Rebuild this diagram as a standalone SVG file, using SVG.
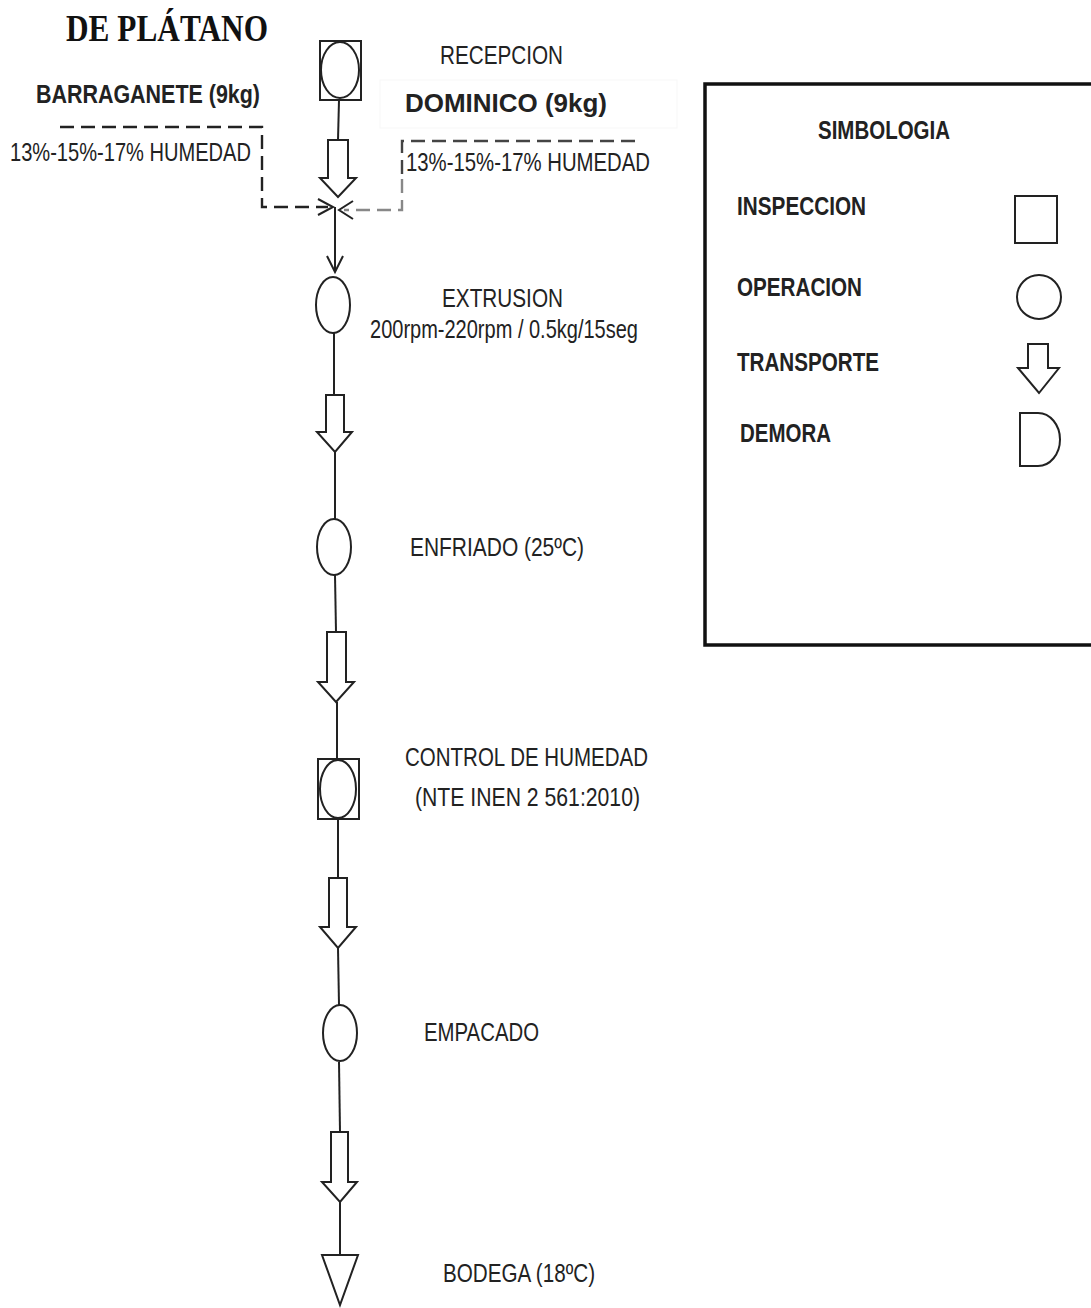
<svg xmlns="http://www.w3.org/2000/svg" width="1091" height="1308" viewBox="0 0 1091 1308">
<defs>
<style>
.t{font-family:"Liberation Sans",Arial,sans-serif;font-size:26px;fill:#222}
.b{font-family:"Liberation Sans",Arial,sans-serif;font-size:26px;font-weight:bold;fill:#222}
.sym{fill:#fff;stroke:#222;stroke-width:2}
.ln{fill:none;stroke:#222;stroke-width:2}
.dash{fill:none;stroke-width:2.4;stroke-dasharray:14 7}
</style>
</defs>
<rect width="1091" height="1308" fill="#fff"/>
<text x="66" y="41" font-family="'Liberation Serif','Times New Roman',serif" font-weight="bold" font-size="37" fill="#111" textLength="202" lengthAdjust="spacingAndGlyphs">DE PLÁTANO</text>
<rect x="380" y="80" width="297" height="48" fill="none" stroke="#f7f7f7" stroke-width="1"/>
<g id="connectors">
<line class="ln" x1="339" y1="100" x2="338" y2="140"/>
<line class="ln" x1="334" y1="333" x2="334" y2="395"/>
<line class="ln" x1="335" y1="452" x2="335" y2="519"/>
<line class="ln" x1="335" y1="575" x2="336" y2="632"/>
<line class="ln" x1="337" y1="702" x2="337" y2="759"/>
<line class="ln" x1="338" y1="819" x2="338" y2="878"/>
<line class="ln" x1="338" y1="948" x2="339" y2="1005"/>
<line class="ln" x1="339" y1="1062" x2="340" y2="1132"/>
<line class="ln" x1="340" y1="1202" x2="340" y2="1255"/>
<line class="ln" x1="335" y1="207" x2="335" y2="272"/>
<polyline class="ln" points="327,256 335,272 343,256"/>
<path class="dash" stroke="#222" d="M60,127 H262 V207 H328"/>
<polyline class="ln" points="318,199 333,207 318,215"/>
<path class="dash" stroke="#444" d="M635,141 H402 V179"/>
<path class="dash" stroke="#888" stroke-width="3" d="M402,179 V210 H344"/>
<polyline class="ln" points="353,201 339,210 353,219"/>
</g>
<g id="recepcion">
<rect class="sym" x="320" y="41" width="41" height="59"/>
<ellipse class="sym" cx="340" cy="70" rx="19" ry="28" stroke="#333"/>
<text class="t" x="440" y="64" textLength="123" lengthAdjust="spacingAndGlyphs">RECEPCION</text>
</g>
<g id="barraganete">
<text class="b" x="36" y="103" font-size="23" textLength="224" lengthAdjust="spacingAndGlyphs">BARRAGANETE  (9kg)</text>
<text class="t" x="10" y="161" textLength="241" lengthAdjust="spacingAndGlyphs">13%-15%-17% HUMEDAD</text>
</g>
<g id="dominico">
<text class="b" x="405" y="112" font-size="23" textLength="202" lengthAdjust="spacingAndGlyphs">DOMINICO (9kg)</text>
<text class="t" x="406" y="171" textLength="244" lengthAdjust="spacingAndGlyphs">13%-15%-17% HUMEDAD</text>
</g>
<g id="transporte1">
<polygon class="sym" points="328,140 348,140 348,178 356,178 338,197 320,178 328,178"/>
</g>
<g id="extrusion">
<ellipse class="sym" cx="333" cy="305" rx="17" ry="28" stroke="#333"/>
<text class="t" x="442" y="307" textLength="121" lengthAdjust="spacingAndGlyphs">EXTRUSION</text>
<text class="t" x="370" y="338" textLength="268" lengthAdjust="spacingAndGlyphs">200rpm-220rpm / 0.5kg/15seg</text>
</g>
<g id="transporte2">
<polygon class="sym" points="326,395 344,395 344,432 352,432 335,452 317,432 326,432"/>
</g>
<g id="enfriado">
<ellipse class="sym" cx="334" cy="547" rx="17" ry="28" stroke="#333"/>
<text class="t" x="410" y="556" textLength="174" lengthAdjust="spacingAndGlyphs">ENFRIADO (25ºC)</text>
</g>
<g id="transporte3">
<polygon class="sym" points="327,632 346,632 346,682 354,682 336,702 318,682 327,682"/>
</g>
<g id="control">
<rect class="sym" x="318" y="759" width="41" height="60"/>
<ellipse class="sym" cx="338" cy="789" rx="18" ry="29" stroke="#333"/>
<text class="t" x="405" y="766" textLength="243" lengthAdjust="spacingAndGlyphs">CONTROL DE HUMEDAD</text>
<text class="t" x="415" y="806" textLength="225" lengthAdjust="spacingAndGlyphs">(NTE INEN 2 561:2010)</text>
</g>
<g id="transporte4">
<polygon class="sym" points="329,878 347,878 347,927 356,927 338,948 320,927 329,927"/>
</g>
<g id="empacado">
<ellipse class="sym" cx="340" cy="1033" rx="17" ry="28" stroke="#333"/>
<text class="t" x="424" y="1041" textLength="115" lengthAdjust="spacingAndGlyphs">EMPACADO</text>
</g>
<g id="transporte5">
<polygon class="sym" points="331,1132 348,1132 348,1182 357,1182 340,1202 322,1182 331,1182"/>
</g>
<g id="bodega">
<polygon class="sym" points="322,1255 358,1255 340,1305"/>
<text class="t" x="443" y="1282" textLength="152" lengthAdjust="spacingAndGlyphs">BODEGA (18ºC)</text>
</g>
<g id="simbologia">
<rect x="705" y="84" width="400" height="561" fill="none" stroke="#111" stroke-width="3.5"/>
<text class="b" x="818" y="139" textLength="132" lengthAdjust="spacingAndGlyphs">SIMBOLOGIA</text>
<text class="b" x="737" y="215" textLength="129" lengthAdjust="spacingAndGlyphs">INSPECCION</text>
<text class="b" x="737" y="296" textLength="125" lengthAdjust="spacingAndGlyphs">OPERACION</text>
<text class="b" x="737" y="371" textLength="142" lengthAdjust="spacingAndGlyphs">TRANSPORTE</text>
<text class="b" x="740" y="442" textLength="91" lengthAdjust="spacingAndGlyphs">DEMORA</text>
<rect class="sym" x="1015" y="196" width="42" height="47"/>
<circle class="sym" cx="1039" cy="297" r="22"/>
<polygon class="sym" points="1028,344 1048,344 1048,368 1059,368 1039,393 1018,368 1028,368"/>
<path class="sym" d="M1020,413 H1038 A22,26.5 0 0 1 1038,466 H1020 Z"/>
</g>
</svg>
